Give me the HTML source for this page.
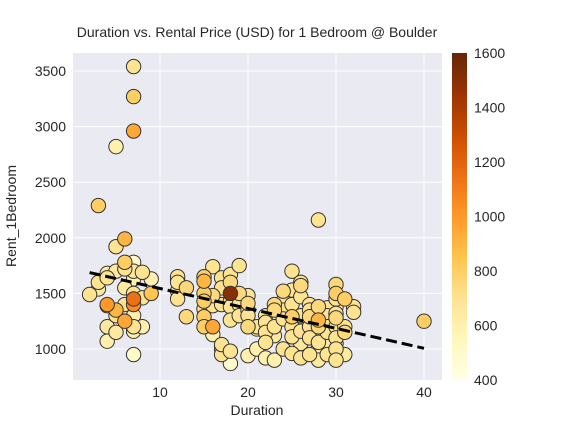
<!DOCTYPE html>
<html><head><meta charset="utf-8"><style>
body{margin:0;background:#fff;font-family:"Liberation Sans",Arial,sans-serif}
svg text{font-family:"Liberation Sans",Arial,sans-serif;fill:#262626}
</style></head><body>
<svg id="c" width="576" height="432" xmlns="http://www.w3.org/2000/svg">
<defs><linearGradient id="cg" x1="0" y1="1" x2="0" y2="0">
<stop offset="0" stop-color="#ffffe5"/><stop offset="0.125" stop-color="#fff7bc"/><stop offset="0.25" stop-color="#fee391"/><stop offset="0.375" stop-color="#fec44f"/><stop offset="0.5" stop-color="#fe9929"/><stop offset="0.625" stop-color="#ec7014"/><stop offset="0.75" stop-color="#cc4c02"/><stop offset="0.875" stop-color="#993404"/><stop offset="1" stop-color="#662506"/></linearGradient></defs>
<rect x="73" y="53" width="369" height="327" fill="#eaeaf2"/>
<g id="grid"></g><g id="pts"></g><g id="trend"></g><g id="axes"></g>
<text x="257" y="37" text-anchor="middle" font-size="14">Duration vs. Rental Price (USD) for 1 Bedroom @ Boulder</text>
<text x="257" y="415" text-anchor="middle" font-size="14">Duration</text>
<text x="16" y="216" text-anchor="middle" font-size="14" transform="rotate(-90 16 216)">Rent_1Bedroom</text>
<rect x="452" y="53" width="15" height="327" fill="url(#cg)"/>
</svg>
<script>
const durations=[2,3,3,3,4,4,4,4,4,4,5,5,5,5,5,5,6,6,6,6,6,6,7,7,7,7,7,7,7,7,7,7,7,7,7,8,8,8,9,9,12,12,12,12,12,13,13,15,15,15,15,15,15,15,16,16,16,16,16,17,17,17,17,17,17,18,18,18,18,18,18,18,18,19,19,19,19,20,20,20,20,20,20,21,21,21,22,22,22,22,22,23,23,23,23,23,24,24,24,24,24,25,25,25,25,25,25,25,26,26,26,26,26,26,26,27,27,27,27,27,27,28,28,28,28,28,28,28,29,29,29,29,29,29,30,30,30,30,30,30,30,30,30,30,30,31,31,31,31,32,32,40];
const rents=[1490,2290,1540,1600,1400,1390,1200,1070,1680,1640,2820,1920,1700,1350,1300,1150,1990,1780,1720,1250,1400,1550,3540,3270,2960,1780,1700,1500,1450,1400,1300,1160,950,1630,1200,1690,1200,1460,1500,1630,1650,1620,1600,1450,1520,1550,1290,1650,1610,1500,1430,1360,1290,1200,1740,1480,1390,1200,1130,1640,1550,1400,1000,950,1040,1500,1670,1600,1430,1380,1260,980,870,1750,1500,1400,1300,1480,1410,1350,1300,1200,940,1000,1200,1180,1300,1240,920,1150,1060,1400,1350,1200,1120,900,1520,1430,1350,1270,1000,1700,1530,1290,1200,1110,960,1400,1600,1570,1470,1300,1160,1050,920,1400,1350,1290,1200,1100,950,2160,1380,1260,1200,1060,900,1000,1370,1300,1200,1150,1050,950,1580,1500,1450,1380,1320,1280,1200,1100,1000,1050,900,1450,1200,1150,950,1380,1330,1250];
const prices=[700,800,650,700,1000,500,650,600,650,700,600,700,650,900,700,650,900,800,700,950,700,650,700,800,950,500,650,700,1150,1050,600,600,500,600,700,700,600,700,850,600,700,650,700,700,650,750,750,800,900,800,800,700,800,800,700,750,700,950,600,700,700,700,700,700,700,1500,700,750,700,700,700,700,500,700,750,700,700,700,750,700,700,750,600,600,700,650,700,700,600,700,700,750,750,700,650,600,750,700,700,700,700,700,700,800,700,700,700,700,700,750,700,700,700,650,700,700,700,750,700,700,700,700,750,900,750,700,650,600,700,700,700,700,650,700,750,800,700,650,700,750,700,700,700,600,700,800,700,750,650,700,700,800];
const xTicks=[10,20,30,40];
const yTicks=[1000,1500,2000,2500,3000,3500];
const cTicks=[400,600,800,1000,1200,1400,1600];
const NS="http://www.w3.org/2000/svg";
const X=v=>72+(v-0)*8.8, Y=v=>349-(v-1000)*0.1112, C=v=>380-(v-400)*327/1200;
const stops=["#ffffe5","#fff7bc","#fee391","#fec44f","#fe9929","#ec7014","#cc4c02","#993404","#662506"];
function hex(h){return[1,3,5].map(i=>parseInt(h.substr(i,2),16));}
function cmap(v){let t=Math.max(0,Math.min(1,(v-400)/1200))*8;let i=Math.min(7,Math.floor(t)),f=t-i;let a=hex(stops[i]),b=hex(stops[i+1]);return"rgb("+a.map((x,k)=>Math.round(x+(b[k]-x)*f)).join(",")+")";}
function mk(tag,at,parent){const e=document.createElementNS(NS,tag);for(const k in at)e.setAttribute(k,at[k]);document.getElementById(parent).appendChild(e);return e;}
xTicks.forEach(t=>{const l=mk("line",{x1:X(t),x2:X(t),y1:53,y2:380,stroke:"#fff","stroke-width":1},"grid");


const tx=mk("text",{x:X(t),y:397,"text-anchor":"middle","font-size":14},"axes");tx.textContent=t;

});
yTicks.forEach(t=>{const l=mk("line",{x1:73,x2:442,y1:Y(t),y2:Y(t),stroke:"#fff","stroke-width":1},"grid");


const tx=mk("text",{x:66,y:Y(t)+5,"text-anchor":"end","font-size":14},"axes");tx.textContent=t;

});
cTicks.forEach(t=>{const tx=mk("text",{x:474,y:C(t)+5,"font-size":14},"axes");tx.textContent=t;

});
const order=durations.map((d,i)=>i).sort((a,b)=>prices[a]-prices[b]);
order.forEach(i=>{const c=mk("circle",{cx:X(durations[i]),cy:Y(rents[i]),r:7.2,fill:cmap(prices[i]),stroke:"#333","stroke-width":1},"pts");

});
const n=durations.length;let sx=0,sy=0,sxx=0,sxy=0;
durations.forEach((d,i)=>{sx+=d;sy+=rents[i];sxx+=d*d;sxy+=d*rents[i];});
const slope=(n*sxy-sx*sy)/(n*sxx-sx*sx), icpt=(sy-slope*sx)/n;
const x0=Math.min(...durations),x1=Math.max(...durations);
const tl=mk("line",{x1:X(x0),y1:Y(icpt+slope*x0),x2:X(x1),y2:Y(icpt+slope*x1),stroke:"#000","stroke-width":3,"stroke-dasharray":"11,5"},"trend");


</script>
</body></html>
